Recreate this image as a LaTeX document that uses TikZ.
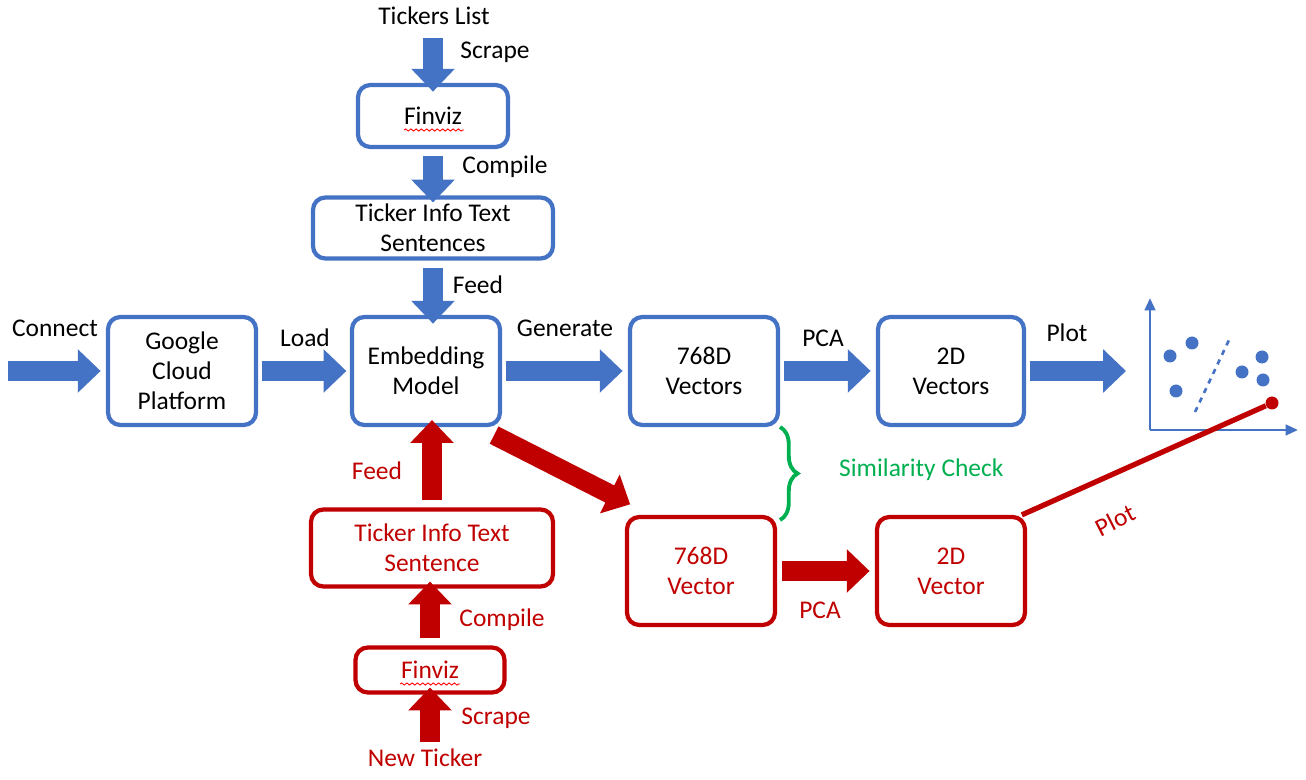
\documentclass[tikz,border=0pt]{standalone}
\usepackage{fontspec}
\setmainfont{Carlito}
\usetikzlibrary{arrows.meta,decorations.pathreplacing,decorations.pathmorphing}
\definecolor{bl}{HTML}{4472C4}
\definecolor{rd}{HTML}{C00000}
\definecolor{gr}{HTML}{00B050}
\begin{document}
\begin{tikzpicture}[x=0.02cm,y=-0.02cm,font=\fontsize{14.5}{17}\selectfont,
 box/.style={draw=#1,line width=2.4pt,rounded corners=7pt,align=center,inner sep=0pt},
 barr/.style={draw=#1,line width=11pt,-{Triangle[length=13pt,width=24pt]}},
 lab/.style={text=#1}]
\useasboundingbox (0,0) rectangle (1306,780);
% blue boxes
\node[box=bl,minimum width=150*0.02cm,minimum height=62*0.02cm] (f1) at (433,116) {Finviz};
\node[box=bl,minimum width=240*0.02cm,minimum height=61*0.02cm] (t1) at (433,228) {Ticker Info Text\\Sentences};
\node[box=bl,minimum width=148*0.02cm,minimum height=108*0.02cm] (g) at (182,371) {Google\\Cloud\\Platform};
\node[box=bl,minimum width=148*0.02cm,minimum height=108*0.02cm] (e) at (426,371) {Embedding\\Model};
\node[box=bl,minimum width=148*0.02cm,minimum height=108*0.02cm] (v7) at (704,371) {768D\\Vectors};
\node[box=bl,minimum width=146*0.02cm,minimum height=108*0.02cm] (v2) at (951,371) {2D\\Vectors};
% red boxes
\node[box=rd,text=rd,minimum width=242*0.02cm,minimum height=77*0.02cm] (t2) at (432,548) {Ticker Info Text\\Sentence};
\node[box=rd,text=rd,minimum width=149*0.02cm,minimum height=45*0.02cm] (f2) at (430,670) {Finviz};
\node[box=rd,text=rd,minimum width=148*0.02cm,minimum height=108*0.02cm] (r7) at (701,571) {768D\\Vector};
\node[box=rd,text=rd,minimum width=148*0.02cm,minimum height=108*0.02cm] (r2) at (951,571) {2D\\Vector};
% spell squiggles
\draw[red,line width=0.5pt,decorate,decoration={snake,amplitude=0.6pt,segment length=3pt}] (404,130)--(464,130);
\draw[red,line width=0.5pt,decorate,decoration={snake,amplitude=0.6pt,segment length=3pt}] (400,684)--(460,684);
% free ends
\coordinate (tl) at (433,38);
\coordinate (cn) at (8,371);
\coordinate (pl) at (1126,371);
\coordinate (nt) at (430,742);
% blue arrows
\draw[barr=bl] (tl) -- ([yshift=-5]f1.north);
\draw[barr=bl] ([yshift=-4]f1.south) -- ([yshift=-4]t1.north);
\draw[barr=bl] ([yshift=-4]t1.south) -- ([yshift=-5]t1.south |- e.north);
\draw[barr=bl] (cn) -- ([xshift=-3]g.west);
\draw[barr=bl] ([xshift=2]g.east) -- ([xshift=-2]e.west);
\draw[barr=bl] ([xshift=2]e.east) -- ([xshift=-3]v7.west);
\draw[barr=bl] ([xshift=2]v7.east) -- ([xshift=-3]v2.west);
\draw[barr=bl] ([xshift=2]v2.east) -- (pl);
% red arrows
\draw[barr=rd] (nt) -- ([yshift=4]f2.south);
\draw[barr=rd] ([yshift=4]f2.north) -- ([yshift=4]f2.north |- t2.south);
\draw[barr=rd] ([yshift=4]t2.north) -- ([yshift=4]t2.north |- e.south);
\draw[barr=rd] (e.south east) ++(-8,8) coordinate (ds) (ds) -- ([xshift=3,yshift=6]r7.north west);
\draw[barr=rd] ([xshift=3]r7.east) -- ([xshift=-3]r2.west);
% scatter plot
\coordinate (o) at (1150,430);
\coordinate (ya) at (1150,298);
\coordinate (xa) at (1298,430);
\draw[bl,line width=1.5pt,-{Triangle[length=7pt,width=6pt]}] (o) -- (ya);
\draw[bl,line width=1.5pt,-{Triangle[length=7pt,width=6pt]}] (o) -- (xa);
\draw[bl,line width=1.5pt,dashed] (1195,412) -- (1229,340);
\foreach \p in {(1170,356),(1192,343),(1176,391),(1242,372),(1262,357),(1263,380)}
  \fill[bl] \p circle (6.5);
\node[circle,fill=rd,inner sep=0pt,minimum size=13*0.02cm] (rdot) at (1272,403) {};
\draw[rd,line width=3pt] ([xshift=-3]r2.north east) -- (rdot);
\node[lab=rd,rotate=27] at (1115,520) {Plot};
% brace
\draw[gr,line width=2.2pt,decorate,decoration={brace,amplitude=10pt}] (780,427) -- (780,520);
\node[lab=gr,anchor=west] at (833,470) {Similarity Check};
% labels
\node at (434,16) {Tickers List};
\node at (495,52) {Scrape};
\node at (505,167) {Compile};
\node at (478,285) {Feed};
\node at (55,328) {Connect};
\node at (305,338) {Load};
\node at (565,328) {Generate};
\node at (823,338) {PCA};
\node at (1067,333) {Plot};
\node[lab=rd] at (377,471) {Feed};
\node[lab=rd] at (502,620) {Compile};
\node[lab=rd] at (496,718) {Scrape};
\node[lab=rd] at (425,758) {New Ticker};
\node[lab=rd] at (820,610) {PCA};
\end{tikzpicture}
\end{document}
